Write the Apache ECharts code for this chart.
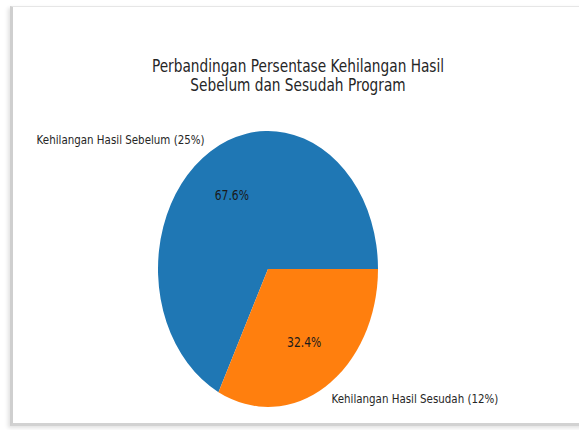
<!DOCTYPE html>
<html>
<head>
<meta charset="utf-8">
<script src="https://cdn.jsdelivr.net/npm/echarts@6/dist/echarts.min.js"></script>
<style>
  html, body { margin: 0; padding: 0; background: #ffffff; overflow: hidden; }
  #frame { position: absolute; left: 10px; top: 6px; width: 575px; height: 416px;
           border-left: 3px solid #cfcfcf; border-top: 1px solid #e6e6e6; border-bottom: 3px solid #d2d2d2;
           box-shadow: -2px 2px 4px rgba(0,0,0,0.12); }
  /* the reference figure is stretched vertically (circular pie appears as an ellipse) */
  #chart { position: absolute; left: 0; top: 0; width: 579px; height: 343px;
           transform: scaleY(1.2545); transform-origin: 0 0; }
</style>
</head>
<body>
<div id="frame"></div>
<div id="chart"></div>
<script>
const titleLines = ['Perbandingan Persentase Kehilangan Hasil', 'Sebelum dan Sesudah Program'];
const categories = ['Kehilangan Hasil Sebelum (25%)', 'Kehilangan Hasil Sesudah (12%)'];
const values = [25, 12];
const colors = ['#1f77b4', '#ff7f0e'];

const chart = echarts.init(document.getElementById('chart'), null, { renderer: 'svg' });
const R = 110;
const center = [268, 214.4];
const font = 'DejaVu Sans';

const data = categories.map((c, i) => ({ name: c, value: values[i], itemStyle: { color: colors[i] } }));

chart.setOption({
  backgroundColor: 'transparent',
  animation: false,
  title: {
    text: titleLines.join('\n'),
    left: 293, top: 40, textAlign: 'center',
    textStyle: { fontFamily: font, fontSize: 13.7, fontWeight: 'normal', color: '#262626', lineHeight: 15.5 }
  },
  series: [
    {
      type: 'pie',
      center: center,
      radius: [0, R],
      startAngle: 0,
      clockwise: false,
      silent: true,
      avoidLabelOverlap: false,
      data: data,
      label: {
        show: true, position: 'outside', formatter: '{b}', distanceToLabelLine: 0,
        fontFamily: font, fontSize: 10.3, color: '#262626'
      },
      labelLine: { show: false, length: R * 0.1, length2: 0 }
    },
    {
      type: 'pie',
      center: center,
      radius: [0, R * 1.2],
      startAngle: 0,
      clockwise: false,
      silent: true,
      avoidLabelOverlap: false,
      z: 5,
      data: categories.map((c, i) => ({ name: c, value: values[i] })),
      itemStyle: { color: 'rgba(0,0,0,0)' },
      label: {
        show: true, position: 'inside',
        formatter: p => p.percent.toFixed(1) + '%',
        fontFamily: font, fontSize: 10.8, color: '#1a1a1a'
      },
      labelLine: { show: false }
    }
  ]
});
</script>
</body>
</html>
